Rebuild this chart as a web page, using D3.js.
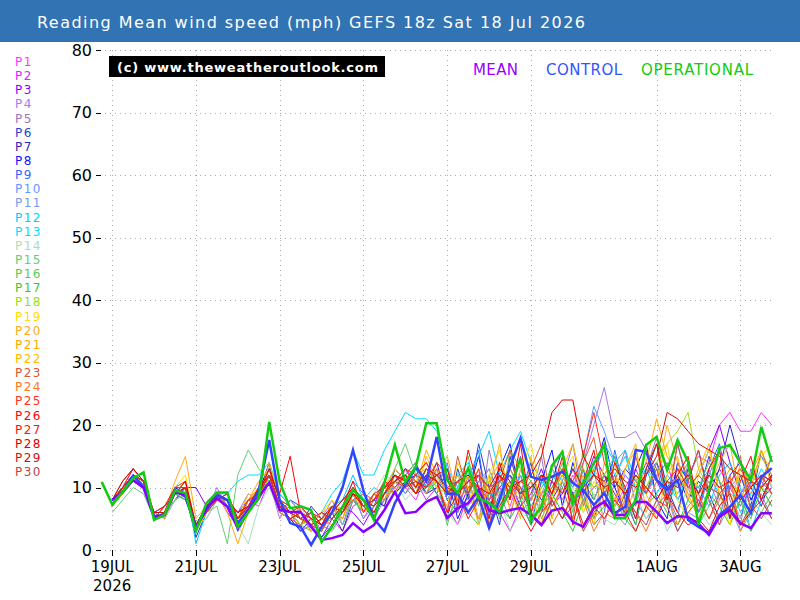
<!DOCTYPE html>
<html>
<head>
<meta charset="utf-8">
<script src="https://cdn.jsdelivr.net/npm/d3@7"></script>
<style>
  body { margin: 0; background: #fff; }
  svg { display: block; font-family: "DejaVu Sans", sans-serif; }
</style>
</head>
<body>
<div id="chart"></div>
<script>
// 6-hourly steps starting 18 Jul 2026 18z; members start at step 1
const startTime = Date.UTC(2026, 6, 18, 18);
const stepHours = 6;

const title = "Reading Mean wind speed (mph) GEFS 18z Sat 18 Jul 2026";
const yTicks = [0, 10, 20, 30, 40, 50, 60, 70, 80];
const xTickDates = [
  [2026, 6, 19], [2026, 6, 21], [2026, 6, 23], [2026, 6, 25],
  [2026, 6, 27], [2026, 6, 29], [2026, 7, 1], [2026, 7, 3],
];
const xTickLabels = ["19JUL", "21JUL", "23JUL", "25JUL", "27JUL", "29JUL", "1AUG", "3AUG"];

// operational run (from step 0)
const operational = [10.9,
  7.3, 9.3, 11.5, 12.4, 4.8, 5.6, 9.5, 9.1,
  3.0, 7.5, 9.2, 9.2, 3.7, 6.0, 8.3, 20.5,
  10.9, 6.7, 7.0, 6.4, 1.3, 3.7, 6.9, 9.6,
  8.0, 4.8, 10.7, 16.8, 10.9, 13.3, 20.3, 20.3,
  11.2, 9.1, 13.1, 8.3, 7.5, 6.1, 9.6, 14.7,
  4.8, 6.9, 13.5, 15.7, 7.5, 10.7, 13.9, 16.8,
  5.1, 5.1, 8.0, 16.8, 18.1, 12.8, 17.6, 14.1,
  4.0, 9.6, 16.3, 16.8, 13.9, 11.2, 19.7, 14.1];

// ensemble mean and control (from step 1)
const mean = [
  8.0, 9.3, 11.2, 9.9, 5.3, 5.6, 9.3, 8.8,
  3.5, 6.7, 8.3, 6.9, 3.5, 6.4, 8.5, 10.8,
  6.4, 6.1, 6.1, 3.7, 1.6, 1.9, 2.4, 4.3,
  2.9, 4.0, 6.4, 9.3, 5.9, 6.1, 7.7, 8.5,
  5.1, 6.7, 7.5, 9.6, 6.4, 5.9, 6.4, 6.7,
  5.6, 4.0, 6.3, 6.7, 4.5, 3.7, 6.7, 7.7,
  5.6, 5.6, 7.7, 7.7, 6.1, 4.3, 5.4, 5.3,
  4.2, 2.4, 5.3, 6.4, 4.3, 3.5, 5.9, 5.9];

const control = [
  8.0, 9.3, 11.9, 10.2, 5.4, 5.6, 9.6, 8.5,
  3.7, 6.4, 8.8, 8.0, 4.3, 6.4, 9.6, 17.6,
  8.0, 4.3, 3.7, 0.8, 3.7, 6.0, 10.0, 16.0,
  9.5, 5.0, 3.0, 7.5, 10.5, 13.3, 11.0, 18.1,
  9.0, 9.0, 6.0, 8.5, 3.5, 8.0, 13.3, 17.9,
  11.7, 11.2, 11.7, 12.5, 10.7, 9.6, 7.2, 9.1,
  5.9, 6.9, 16.0, 15.7, 11.2, 9.6, 11.2, 4.8,
  3.7, 2.7, 5.6, 6.9, 8.8, 5.9, 11.7, 13.1];

const memberNames = d3.range(1, 31).map((i) => "P" + i);
const memberColors = [
  "#ff33ff", "#dd22ff", "#8800ff", "#aa77ee", "#9977bb", "#2244cc",
  "#3322bb", "#1111ff", "#3366ff", "#6699ff", "#7799ee", "#00ccff",
  "#00ddff", "#aaddbb", "#66cc77", "#55cc55", "#33cc33", "#99dd22",
  "#ffdd00", "#ffaa22", "#ffaa00", "#ffbb00", "#dd5533", "#ff7722",
  "#ff3322", "#ff0000", "#ff1111", "#dd0000", "#cc1111", "#bb4444",
];

// members P1..P30 (from step 1)
const members = [
  [8,10,12,11,5,6,9,9, 3,7,9,8,4,6,9,12, 6,5,4,6,3,7,5,9, 5,8,9,12,10,8,12,9, 7,11,9,13,8,10,7,12, 6,9,11,8,12,9,14,10, 8,12,10,7,11,9,13,12, 15,14,20,22,19,19,22,20],
  [7,9,12,10,6,5,8,10, 4,6,8,9,5,8,7,11, 8,6,3,4,6,5,3,7, 8,6,10,9,13,11,8,10, 7,4,9,5,8,6,3,7, 10,12,7,9,13,8,10,12, 7,10,13,9,12,14,8,11, 6,9,13,10,7,11,8,12],
  [8,10,13,11,5,6,9,10, 10,7,9,6,4,8,10,13, 7,5,6,4,2,5,7,6, 4,7,11,9,12,14,10,13, 8,6,10,12,4,9,11,7, 9,13,8,11,7,10,15,12, 9,6,10,14,11,8,13,10, 12,16,20,14,9,11,8,10],
  [7,9,11,10,6,6,10,9, 3,6,10,7,6,9,8,11, 5,8,6,3,5,8,4,9, 7,5,8,12,10,13,9,11, 10,8,7,11,13,9,12,6, 8,11,9,13,10,14,20,26, 18,18,19,16,13,10,12,9, 8,11,7,10,12,8,11,9],
  [7,10,12,11,5,7,9,8, 4,5,8,7,5,7,9,13, 9,7,5,6,4,3,6,8, 6,9,7,11,9,12,14,10, 14,6,12,4,16,9,5,13, 8,15,5,11,17,7,13,4, 11,16,7,13,18,9,5,14, 6,12,16,8,4,13,10,15],
  [8,9,12,10,5,6,8,10, 3,7,8,8,3,6,8,12, 6,8,7,5,2,4,6,10, 7,5,9,10,12,9,13,11, 5,13,8,17,10,4,15,9, 14,6,11,16,7,13,5,10, 15,8,4,12,17,10,6,13, 9,15,11,5,12,7,16,11],
  [7,10,11,10,6,5,9,9, 2,6,9,7,5,7,10,11, 7,6,4,7,5,6,3,8, 6,8,7,13,11,9,10,14, 8,11,13,9,7,10,12,9, 11,8,10,13,9,11,8,12, 10,13,11,9,14,10,12,8, 11,9,13,20,14,10,7,12],
  [8,9,12,11,5,6,10,9, 4,7,8,8,4,7,9,14, 6,5,3,5,4,7,6,9, 8,7,10,9,11,12,9,10, 12,5,9,15,6,13,17,8, 4,11,16,7,14,9,12,18, 10,6,13,17,8,5,14,11, 16,9,5,12,14,8,11,15],
  [7,9,11,10,6,7,9,10, 3,6,9,7,6,8,8,12, 8,7,5,4,6,5,7,11, 9,6,8,11,13,10,12,9, 13,7,11,16,5,12,8,15, 6,4,8,5,7,9,4,6, 16,9,5,12,14,8,17,10, 6,13,17,9,5,11,15,12],
  [8,10,12,10,5,6,9,8, 4,6,8,8,5,6,9,11, 7,6,4,5,3,6,5,9, 5,7,9,10,12,11,9,12, 9,10,12,8,11,9,13,10, 8,11,9,12,10,15,23,19, 14,12,10,13,11,9,12,10, 10,13,8,11,9,12,10,11],
  [7,9,12,11,6,5,8,9, 3,7,9,7,4,7,9,12, 6,8,6,3,5,7,4,8, 7,8,10,12,9,11,10,13, 8,11,9,10,13,8,11,9, 10,9,13,11,8,12,10,11, 6,4,8,5,7,9,3,6, 5,8,4,7,3,6,9,5],
  [8,10,12,11,5,6,9,11, 1,6,8,8,6,7,9,12, 8,6,5,6,4,7,8,12, 8,10,9,12,11,13,10,11, 9,12,14,10,8,11,9,12, 7,10,12,10,13,11,12,17, 14,16,11,13,9,12,10,11, 10,7,12,14,10,3,8,12],
  [7,9,12,10,6,6,10,10, 4,7,9,9,11,12,12,14, 9,7,5,4,6,9,11,16, 12,12,16,19,22,21,21,19, 13,10,12,15,19,12,16,19, 14,11,9,12,8,10,13,16, 12,15,10,9,13,11,8,12, 10,12,9,11,6,9,13,10],
  [7,9,11,10,6,5,8,9, 4,5,8,7,4,1,7,10, 6,5,7,4,6,3,5,9, 6,9,12,11,8,10,9,12, 6,4,7,9,5,8,3,6, 5,8,4,7,10,6,9,5, 4,7,9,5,8,3,6,10, 7,4,6,9,5,8,6,4],
  [6,8,10,9,5,6,8,9, 3,6,7,1,12,16,13,11, 8,6,4,3,5,7,4,8, 7,6,9,13,17,12,10,11, 9,12,8,10,7,11,13,9, 5,10,13,9,11,8,12,10, 7,9,12,10,13,11,9,12, 10,14,11,9,8,12,10,7],
  [8,10,12,11,5,6,9,10, 3,7,9,8,5,7,8,12, 7,5,6,4,3,6,7,8, 6,8,11,10,12,14,9,11, 4,10,15,7,12,5,16,13, 11,5,9,14,6,16,8,12, 15,9,4,13,17,7,11,14, 4,7,9,5,8,3,6,9],
  [7,9,11,10,6,6,9,8, 4,6,8,7,5,8,9,11, 6,7,5,6,4,5,7,10, 8,7,9,12,10,13,11,9, 5,8,6,4,9,7,5,8, 4,7,9,6,3,8,5,7, 8,5,3,7,9,6,4,8, 6,9,7,4,8,5,10,7],
  [8,10,12,11,5,7,9,10, 4,7,9,8,6,7,9,13, 7,6,4,5,3,6,5,9, 7,9,8,11,10,12,13,10, 9,11,10,8,12,9,11,10, 10,12,9,11,8,13,10,12, 11,9,12,10,14,17,19,22, 13,10,9,11,8,12,10,9],
  [7,9,12,10,6,6,10,12, 3,6,9,8,5,8,10,11, 8,6,5,4,6,8,6,10, 6,8,10,9,12,11,14,10, 7,14,10,4,12,16,8,13, 17,9,5,12,15,6,11,9, 14,6,10,16,11,17,8,5, 12,16,9,4,13,10,15,17],
  [8,10,12,11,5,6,11,15, 5,7,8,7,4,8,11,13, 6,5,7,5,4,6,8,9, 7,9,8,12,11,10,13,12, 15,8,12,5,10,17,6,11, 9,4,13,16,7,12,5,14, 8,13,17,6,11,20,14,9, 5,10,14,17,8,12,16,10],
  [7,9,12,10,6,5,9,11, 4,7,9,6,1,6,9,12, 7,5,6,4,6,7,5,10, 8,6,9,11,12,10,16,12, 9,12,10,13,9,11,10,8, 11,9,10,12,8,11,13,10, 12,9,11,14,21,15,12,10, 9,11,10,13,12,9,11,15],
  [8,10,11,11,5,6,10,11, 3,6,8,8,5,9,8,14, 8,6,5,3,5,6,7,9, 6,7,10,13,11,9,15,11, 10,9,12,8,11,14,10,5, 15,6,8,13,17,10,4,11, 7,13,16,9,5,12,15,8, 13,17,9,6,14,10,16,12],
  [8,11,13,11,5,6,10,11, 3,7,9,8,5,7,9,12, 7,6,5,6,4,7,6,8, 9,8,10,11,13,10,12,11, 6,15,9,13,4,11,16,8, 13,17,7,10,5,14,18,9, 12,5,15,9,13,7,17,11, 16,8,4,10,15,6,12,9],
  [7,10,12,10,6,6,9,10, 4,6,8,8,6,7,10,12, 6,5,4,6,5,4,7,10, 7,9,8,10,12,11,9,13, 11,8,10,12,9,11,13,10, 6,9,4,7,5,8,3,6, 5,8,6,3,7,9,4,7, 9,5,8,12,3,7,10,12],
  [8,10,13,11,5,6,9,10, 3,7,8,9,5,7,9,13, 8,7,5,4,3,6,8,9, 7,8,11,10,12,9,11,14, 12,9,11,10,8,12,9,11, 10,12,9,13,11,15,22,14, 11,9,12,10,8,11,13,10, 12,10,9,11,13,10,12,9],
  [8,10,12,11,6,7,9,10, 4,7,9,8,6,7,10,12, 9,15,6,5,4,7,6,9, 8,6,9,12,10,11,10,12, 13,7,16,10,5,14,8,17, 6,12,9,15,4,11,16,7, 14,10,5,13,17,8,12,15, 7,13,16,5,11,15,8,12],
  [7,10,12,11,5,7,10,10, 4,6,8,9,5,8,9,12, 7,6,7,5,6,5,7,11, 6,9,10,11,13,12,14,11, 6,9,5,8,4,7,10,6, 3,6,8,5,9,4,7,5, 8,6,3,7,5,9,6,4, 5,3,7,9,4,6,8,5],
  [8,11,13,11,5,6,9,11, 4,7,9,8,5,7,9,12, 7,5,6,4,5,7,6,9, 7,8,10,12,11,9,12,11, 9,11,12,10,9,12,10,11, 12,15,22,24,24,15,12,10, 11,9,12,10,8,11,10,12, 9,12,10,11,8,10,12,11],
  [8,10,12,11,6,6,9,10, 4,7,9,8,6,7,9,13, 8,6,5,6,4,6,8,10, 8,7,9,11,12,10,13,12, 10,9,11,12,10,13,11,9, 10,12,11,9,13,10,12,11, 13,11,10,12,15,22,21,19, 17,16,15,13,12,11,10,12],
  [8,10,12,11,5,6,10,10, 3,7,9,8,5,7,9,12, 7,6,5,6,5,7,6,10, 7,8,10,11,10,12,11,12, 10,11,9,12,10,11,12,10, 6,4,8,5,9,3,6,8, 5,9,6,4,8,7,3,6, 8,5,9,6,4,7,5,8],
];

const width = 800, height = 600;
const plot = { left: 101.7, right: 771.8, top: 50, bottom: 550 };

const svg = d3.select("#chart").append("svg")
  .attr("width", width)
  .attr("height", height);

// title bar
svg.append("rect")
  .attr("x", 0).attr("y", 0)
  .attr("width", width).attr("height", 42)
  .attr("fill", "#3273b3");
svg.append("text")
  .attr("x", 37).attr("y", 28)
  .attr("fill", "#fff")
  .attr("font-size", 16)
  .attr("textLength", 548)
  .attr("lengthAdjust", "spacing")
  .text(title);

const timeAt = (i) => new Date(startTime + i * stepHours * 3600e3);

const x = d3.scaleUtc()
  .domain([timeAt(0), timeAt(64)])
  .range([plot.left, plot.right]);
const y = d3.scaleLinear()
  .domain([0, 80])
  .range([plot.bottom, plot.top]);

const tickDates = xTickDates.map((d) => new Date(Date.UTC(d[0], d[1], d[2])));

// grid
const grid = svg.append("g")
  .attr("stroke", "#aaa")
  .attr("stroke-width", 1)
  .attr("stroke-dasharray", "1,4");
grid.selectAll("line.h").data(yTicks).join("line")
  .attr("x1", 100).attr("x2", plot.right)
  .attr("y1", (d) => Math.round(y(d)) + 0.5)
  .attr("y2", (d) => Math.round(y(d)) + 0.5);
grid.selectAll("line.v").data(tickDates).join("line")
  .attr("x1", (d) => Math.round(x(d)) + 0.5)
  .attr("x2", (d) => Math.round(x(d)) + 0.5)
  .attr("y1", plot.top).attr("y2", plot.bottom);

// y axis labels and dashes
const yAxis = svg.append("g");
yAxis.selectAll("line").data(yTicks).join("line")
  .attr("x1", 96).attr("x2", 101)
  .attr("y1", (d) => Math.round(y(d)) + 0.5)
  .attr("y2", (d) => Math.round(y(d)) + 0.5)
  .attr("stroke", "#000");
yAxis.selectAll("text").data(yTicks).join("text")
  .attr("x", 92)
  .attr("y", (d) => y(d))
  .attr("dy", "0.36em")
  .attr("text-anchor", "end")
  .attr("font-size", 16)
  .text((d) => d);

// x axis labels and ticks
const xAxis = svg.append("g");
xAxis.selectAll("line").data(tickDates).join("line")
  .attr("x1", (d) => Math.round(x(d)) + 0.5)
  .attr("x2", (d) => Math.round(x(d)) + 0.5)
  .attr("y1", plot.bottom).attr("y2", plot.bottom + 6)
  .attr("stroke", "#000");
xAxis.selectAll("text.lab").data(tickDates).join("text")
  .attr("class", "lab")
  .attr("x", (d) => x(d))
  .attr("y", 572)
  .attr("text-anchor", "middle")
  .attr("font-size", 15)
  .text((d, i) => xTickLabels[i]);
xAxis.append("text")
  .attr("x", x(tickDates[0]))
  .attr("y", 591)
  .attr("text-anchor", "middle")
  .attr("font-size", 15)
  .text("2026");

// series
const line = d3.line()
  .x((d) => x(timeAt(d.i)))
  .y((d) => y(d.v));
const fromStep = (vals, first) => vals.map((v, k) => ({ i: k + first, v }));

const g = svg.append("g").attr("fill", "none").attr("stroke-linejoin", "miter");
g.selectAll("path.member").data(members).join("path")
  .attr("class", "member")
  .attr("d", (d) => line(fromStep(d, 1)))
  .attr("stroke", (d, i) => memberColors[i])
  .attr("stroke-width", 1);

g.append("path").attr("d", line(fromStep(control, 1)))
  .attr("stroke", "#3344ff").attr("stroke-width", 2.5);
g.append("path").attr("d", line(fromStep(mean, 1)))
  .attr("stroke", "#8800ff").attr("stroke-width", 2.5);
g.append("path").attr("d", line(fromStep(operational, 0)))
  .attr("stroke", "#11cc11").attr("stroke-width", 2.5);

// member legend
svg.append("g").selectAll("text").data(memberNames).join("text")
  .attr("x", 15)
  .attr("y", (d, i) => 66 + i * 14.14)
  .attr("font-size", 12)
  .attr("letter-spacing", 1.5)
  .attr("fill", (d, i) => memberColors[i])
  .text((d) => d);

// watermark
svg.append("rect")
  .attr("x", 109).attr("y", 56)
  .attr("width", 276).attr("height", 21)
  .attr("fill", "#000");
svg.append("text")
  .attr("x", 117).attr("y", 71.5)
  .attr("fill", "#fff")
  .attr("font-size", 13)
  .attr("font-weight", "bold")
  .attr("textLength", 261)
  .attr("lengthAdjust", "spacing")
  .text("(c) www.theweatheroutlook.com");

// series legend
const seriesLegend = [
  { label: "MEAN", color: "#9900ff", x: 473, w: 45 },
  { label: "CONTROL", color: "#3355ff", x: 546, w: 76 },
  { label: "OPERATIONAL", color: "#11cc11", x: 641, w: 112 },
];
svg.append("g").selectAll("text").data(seriesLegend).join("text")
  .attr("x", (d) => d.x)
  .attr("y", 75)
  .attr("font-size", 15)
  .attr("fill", (d) => d.color)
  .attr("textLength", (d) => d.w)
  .attr("lengthAdjust", "spacing")
  .text((d) => d.label);
</script>
</body>
</html>
